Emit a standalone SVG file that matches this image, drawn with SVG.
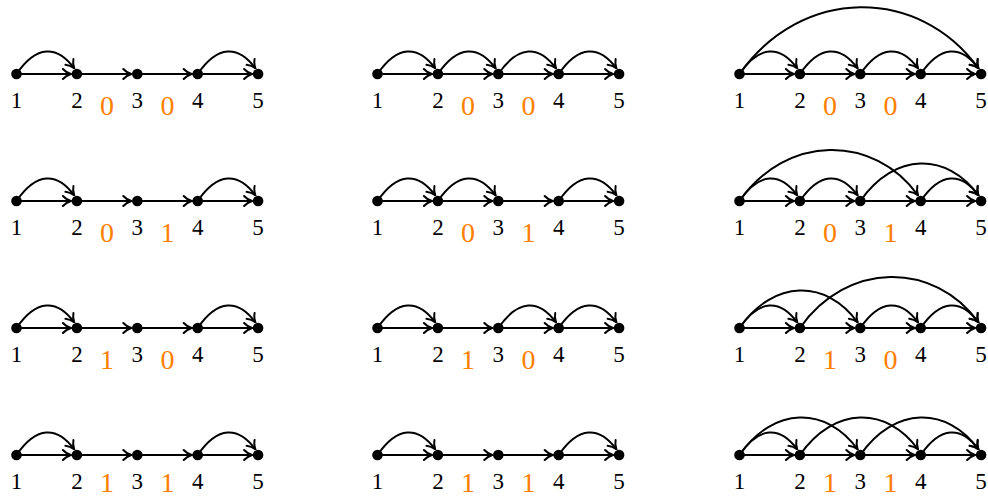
<svg xmlns="http://www.w3.org/2000/svg" width="988" height="499" viewBox="0 0 988 499">
<style>
.n{fill:#000}
.lb{font-family:"Liberation Serif","Times New Roman","DejaVu Serif",serif;font-size:23px;fill:#000;text-anchor:middle}
.ob{font-family:"Liberation Serif","Times New Roman","DejaVu Serif",serif;font-size:28px;fill:#ff8000;text-anchor:middle}
.e{fill:none;stroke:#000;stroke-width:2;marker-end:url(#ar)}
</style>
<defs>
<marker id="ar" viewBox="-10 -7 11 14" markerWidth="11" markerHeight="14" refX="0" refY="0" orient="auto" markerUnits="userSpaceOnUse">
<path d="M-8 -5C-5.5 -2.2 -2.3 -0.7 0 0C-2.3 0.7 -5.5 2.2 -8 5" fill="none" stroke="#000" stroke-width="2" stroke-linecap="round"/>
</marker>
</defs>
<rect width="988" height="499" fill="#fff"/>

<!-- Connectors -->
<g id="connectors">
<g transform="translate(16.5,74)">
<path class="e" d="M0 0H54.4"/><path class="e" d="M60.4 0H114.8"/><path class="e" d="M120.8 0H175.2"/><path class="e" d="M181.2 0H235.6"/>
<path class="e" d="M0 0C20 -29 40.4 -29 57.7 -5.7"/>
<path class="e" d="M181.2 0C201.2 -29 221.6 -29 238.9 -5.7"/>
</g>
<g transform="translate(377.5,74)">
<path class="e" d="M0 0H54.4"/><path class="e" d="M60.4 0H114.8"/><path class="e" d="M120.8 0H175.2"/><path class="e" d="M181.2 0H235.6"/>
<path class="e" d="M0 0C20 -29 40.4 -29 57.7 -5.7"/>
<path class="e" d="M60.4 0C80.4 -29 100.8 -29 118.1 -5.7"/>
<path class="e" d="M120.8 0C140.8 -29 161.2 -29 178.5 -5.7"/>
<path class="e" d="M181.2 0C201.2 -29 221.6 -29 238.9 -5.7"/>
</g>
<g transform="translate(739.5,74)">
<path class="e" d="M0 0H54.4"/><path class="e" d="M60.4 0H114.8"/><path class="e" d="M120.8 0H175.2"/><path class="e" d="M181.2 0H235.6"/>
<path class="e" d="M0 0C20 -29 40.4 -29 57.7 -5.7"/>
<path class="e" d="M60.4 0C80.4 -29 100.8 -29 118.1 -5.7"/>
<path class="e" d="M120.8 0C140.8 -29 161.2 -29 178.5 -5.7"/>
<path class="e" d="M181.2 0C201.2 -29 221.6 -29 238.9 -5.7"/>
<path class="e" d="M0 0C62 -88 179.6 -88 238.9 -5.7"/>
</g>
<g transform="translate(16.5,201)">
<path class="e" d="M0 0H54.4"/><path class="e" d="M60.4 0H114.8"/><path class="e" d="M120.8 0H175.2"/><path class="e" d="M181.2 0H235.6"/>
<path class="e" d="M0 0C20 -29 40.4 -29 57.7 -5.7"/>
<path class="e" d="M181.2 0C201.2 -29 221.6 -29 238.9 -5.7"/>
</g>
<g transform="translate(377.5,201)">
<path class="e" d="M0 0H54.4"/><path class="e" d="M60.4 0H114.8"/><path class="e" d="M120.8 0H175.2"/><path class="e" d="M181.2 0H235.6"/>
<path class="e" d="M0 0C20 -29 40.4 -29 57.7 -5.7"/>
<path class="e" d="M60.4 0C80.4 -29 100.8 -29 118.1 -5.7"/>
<path class="e" d="M181.2 0C201.2 -29 221.6 -29 238.9 -5.7"/>
</g>
<g transform="translate(739.5,201)">
<path class="e" d="M0 0H54.4"/><path class="e" d="M60.4 0H114.8"/><path class="e" d="M120.8 0H175.2"/><path class="e" d="M181.2 0H235.6"/>
<path class="e" d="M0 0C20 -29 40.4 -29 57.7 -5.7"/>
<path class="e" d="M60.4 0C80.4 -29 100.8 -29 118.1 -5.7"/>
<path class="e" d="M181.2 0C201.2 -29 221.6 -29 238.9 -5.7"/>
<path class="e" d="M0 0C47 -67 134.2 -67 178.5 -5.7"/>
<path class="e" d="M120.8 0C154.8 -49 207.6 -49 238.9 -5.7"/>
</g>
<g transform="translate(16.5,328)">
<path class="e" d="M0 0H54.4"/><path class="e" d="M60.4 0H114.8"/><path class="e" d="M120.8 0H175.2"/><path class="e" d="M181.2 0H235.6"/>
<path class="e" d="M0 0C20 -29 40.4 -29 57.7 -5.7"/>
<path class="e" d="M181.2 0C201.2 -29 221.6 -29 238.9 -5.7"/>
</g>
<g transform="translate(377.5,328)">
<path class="e" d="M0 0H54.4"/><path class="e" d="M60.4 0H114.8"/><path class="e" d="M120.8 0H175.2"/><path class="e" d="M181.2 0H235.6"/>
<path class="e" d="M0 0C20 -29 40.4 -29 57.7 -5.7"/>
<path class="e" d="M120.8 0C140.8 -29 161.2 -29 178.5 -5.7"/>
<path class="e" d="M181.2 0C201.2 -29 221.6 -29 238.9 -5.7"/>
</g>
<g transform="translate(739.5,328)">
<path class="e" d="M0 0H54.4"/><path class="e" d="M60.4 0H114.8"/><path class="e" d="M120.8 0H175.2"/><path class="e" d="M181.2 0H235.6"/>
<path class="e" d="M0 0C20 -29 40.4 -29 57.7 -5.7"/>
<path class="e" d="M120.8 0C140.8 -29 161.2 -29 178.5 -5.7"/>
<path class="e" d="M181.2 0C201.2 -29 221.6 -29 238.9 -5.7"/>
<path class="e" d="M0 0C34 -49 86.8 -49 118.1 -5.7"/>
<path class="e" d="M60.4 0C107.4 -67 194.6 -67 238.9 -5.7"/>
</g>
<g transform="translate(16.5,455)">
<path class="e" d="M0 0H54.4"/><path class="e" d="M60.4 0H114.8"/><path class="e" d="M120.8 0H175.2"/><path class="e" d="M181.2 0H235.6"/>
<path class="e" d="M0 0C20 -29 40.4 -29 57.7 -5.7"/>
<path class="e" d="M181.2 0C201.2 -29 221.6 -29 238.9 -5.7"/>
</g>
<g transform="translate(377.5,455)">
<path class="e" d="M0 0H54.4"/><path class="e" d="M60.4 0H114.8"/><path class="e" d="M120.8 0H175.2"/><path class="e" d="M181.2 0H235.6"/>
<path class="e" d="M0 0C20 -29 40.4 -29 57.7 -5.7"/>
<path class="e" d="M181.2 0C201.2 -29 221.6 -29 238.9 -5.7"/>
</g>
<g transform="translate(739.5,455)">
<path class="e" d="M0 0H54.4"/><path class="e" d="M60.4 0H114.8"/><path class="e" d="M120.8 0H175.2"/><path class="e" d="M181.2 0H235.6"/>
<path class="e" d="M0 0C20 -29 40.4 -29 57.7 -5.7"/>
<path class="e" d="M181.2 0C201.2 -29 221.6 -29 238.9 -5.7"/>
<path class="e" d="M0 0C34 -49 86.8 -49 118.1 -5.7"/>
<path class="e" d="M60.4 0C94.4 -49 147.2 -49 178.5 -5.7"/>
<path class="e" d="M120.8 0C154.8 -49 207.6 -49 238.9 -5.7"/>
</g>
</g>

<!-- Nodes -->
<g id="nodes">
<g id="r1a" transform="translate(16.5,74)">
<g id="r1a-n1"><circle class="n" cx="0" cy="0" r="5.3"/><text class="lb" x="0" y="34">1</text></g>
<g id="r1a-n2"><circle class="n" cx="60.4" cy="0" r="5.3"/><text class="lb" x="60.4" y="34">2</text></g>
<g id="r1a-n3"><circle class="n" cx="120.8" cy="0" r="5.3"/><text class="lb" x="120.8" y="34">3</text></g>
<g id="r1a-n4"><circle class="n" cx="181.2" cy="0" r="5.3"/><text class="lb" x="181.2" y="34">4</text></g>
<g id="r1a-n5"><circle class="n" cx="241.6" cy="0" r="5.3"/><text class="lb" x="241.6" y="34">5</text></g>
<text class="ob" x="90.6" y="41">0</text><text class="ob" x="151" y="41">0</text>
</g>
<g id="r1b" transform="translate(377.5,74)">
<g id="r1b-n1"><circle class="n" cx="0" cy="0" r="5.3"/><text class="lb" x="0" y="34">1</text></g>
<g id="r1b-n2"><circle class="n" cx="60.4" cy="0" r="5.3"/><text class="lb" x="60.4" y="34">2</text></g>
<g id="r1b-n3"><circle class="n" cx="120.8" cy="0" r="5.3"/><text class="lb" x="120.8" y="34">3</text></g>
<g id="r1b-n4"><circle class="n" cx="181.2" cy="0" r="5.3"/><text class="lb" x="181.2" y="34">4</text></g>
<g id="r1b-n5"><circle class="n" cx="241.6" cy="0" r="5.3"/><text class="lb" x="241.6" y="34">5</text></g>
<text class="ob" x="90.6" y="41">0</text><text class="ob" x="151" y="41">0</text>
</g>
<g id="r1c" transform="translate(739.5,74)">
<g id="r1c-n1"><circle class="n" cx="0" cy="0" r="5.3"/><text class="lb" x="0" y="34">1</text></g>
<g id="r1c-n2"><circle class="n" cx="60.4" cy="0" r="5.3"/><text class="lb" x="60.4" y="34">2</text></g>
<g id="r1c-n3"><circle class="n" cx="120.8" cy="0" r="5.3"/><text class="lb" x="120.8" y="34">3</text></g>
<g id="r1c-n4"><circle class="n" cx="181.2" cy="0" r="5.3"/><text class="lb" x="181.2" y="34">4</text></g>
<g id="r1c-n5"><circle class="n" cx="241.6" cy="0" r="5.3"/><text class="lb" x="241.6" y="34">5</text></g>
<text class="ob" x="90.6" y="41">0</text><text class="ob" x="151" y="41">0</text>
</g>

<g id="r2a" transform="translate(16.5,201)">
<g id="r2a-n1"><circle class="n" cx="0" cy="0" r="5.3"/><text class="lb" x="0" y="34">1</text></g>
<g id="r2a-n2"><circle class="n" cx="60.4" cy="0" r="5.3"/><text class="lb" x="60.4" y="34">2</text></g>
<g id="r2a-n3"><circle class="n" cx="120.8" cy="0" r="5.3"/><text class="lb" x="120.8" y="34">3</text></g>
<g id="r2a-n4"><circle class="n" cx="181.2" cy="0" r="5.3"/><text class="lb" x="181.2" y="34">4</text></g>
<g id="r2a-n5"><circle class="n" cx="241.6" cy="0" r="5.3"/><text class="lb" x="241.6" y="34">5</text></g>
<text class="ob" x="90.6" y="41">0</text><text class="ob" x="151" y="41">1</text>
</g>
<g id="r2b" transform="translate(377.5,201)">
<g id="r2b-n1"><circle class="n" cx="0" cy="0" r="5.3"/><text class="lb" x="0" y="34">1</text></g>
<g id="r2b-n2"><circle class="n" cx="60.4" cy="0" r="5.3"/><text class="lb" x="60.4" y="34">2</text></g>
<g id="r2b-n3"><circle class="n" cx="120.8" cy="0" r="5.3"/><text class="lb" x="120.8" y="34">3</text></g>
<g id="r2b-n4"><circle class="n" cx="181.2" cy="0" r="5.3"/><text class="lb" x="181.2" y="34">4</text></g>
<g id="r2b-n5"><circle class="n" cx="241.6" cy="0" r="5.3"/><text class="lb" x="241.6" y="34">5</text></g>
<text class="ob" x="90.6" y="41">0</text><text class="ob" x="151" y="41">1</text>
</g>
<g id="r2c" transform="translate(739.5,201)">
<g id="r2c-n1"><circle class="n" cx="0" cy="0" r="5.3"/><text class="lb" x="0" y="34">1</text></g>
<g id="r2c-n2"><circle class="n" cx="60.4" cy="0" r="5.3"/><text class="lb" x="60.4" y="34">2</text></g>
<g id="r2c-n3"><circle class="n" cx="120.8" cy="0" r="5.3"/><text class="lb" x="120.8" y="34">3</text></g>
<g id="r2c-n4"><circle class="n" cx="181.2" cy="0" r="5.3"/><text class="lb" x="181.2" y="34">4</text></g>
<g id="r2c-n5"><circle class="n" cx="241.6" cy="0" r="5.3"/><text class="lb" x="241.6" y="34">5</text></g>
<text class="ob" x="90.6" y="41">0</text><text class="ob" x="151" y="41">1</text>
</g>

<g id="r3a" transform="translate(16.5,328)">
<g id="r3a-n1"><circle class="n" cx="0" cy="0" r="5.3"/><text class="lb" x="0" y="34">1</text></g>
<g id="r3a-n2"><circle class="n" cx="60.4" cy="0" r="5.3"/><text class="lb" x="60.4" y="34">2</text></g>
<g id="r3a-n3"><circle class="n" cx="120.8" cy="0" r="5.3"/><text class="lb" x="120.8" y="34">3</text></g>
<g id="r3a-n4"><circle class="n" cx="181.2" cy="0" r="5.3"/><text class="lb" x="181.2" y="34">4</text></g>
<g id="r3a-n5"><circle class="n" cx="241.6" cy="0" r="5.3"/><text class="lb" x="241.6" y="34">5</text></g>
<text class="ob" x="90.6" y="41">1</text><text class="ob" x="151" y="41">0</text>
</g>
<g id="r3b" transform="translate(377.5,328)">
<g id="r3b-n1"><circle class="n" cx="0" cy="0" r="5.3"/><text class="lb" x="0" y="34">1</text></g>
<g id="r3b-n2"><circle class="n" cx="60.4" cy="0" r="5.3"/><text class="lb" x="60.4" y="34">2</text></g>
<g id="r3b-n3"><circle class="n" cx="120.8" cy="0" r="5.3"/><text class="lb" x="120.8" y="34">3</text></g>
<g id="r3b-n4"><circle class="n" cx="181.2" cy="0" r="5.3"/><text class="lb" x="181.2" y="34">4</text></g>
<g id="r3b-n5"><circle class="n" cx="241.6" cy="0" r="5.3"/><text class="lb" x="241.6" y="34">5</text></g>
<text class="ob" x="90.6" y="41">1</text><text class="ob" x="151" y="41">0</text>
</g>
<g id="r3c" transform="translate(739.5,328)">
<g id="r3c-n1"><circle class="n" cx="0" cy="0" r="5.3"/><text class="lb" x="0" y="34">1</text></g>
<g id="r3c-n2"><circle class="n" cx="60.4" cy="0" r="5.3"/><text class="lb" x="60.4" y="34">2</text></g>
<g id="r3c-n3"><circle class="n" cx="120.8" cy="0" r="5.3"/><text class="lb" x="120.8" y="34">3</text></g>
<g id="r3c-n4"><circle class="n" cx="181.2" cy="0" r="5.3"/><text class="lb" x="181.2" y="34">4</text></g>
<g id="r3c-n5"><circle class="n" cx="241.6" cy="0" r="5.3"/><text class="lb" x="241.6" y="34">5</text></g>
<text class="ob" x="90.6" y="41">1</text><text class="ob" x="151" y="41">0</text>
</g>

<g id="r4a" transform="translate(16.5,455)">
<g id="r4a-n1"><circle class="n" cx="0" cy="0" r="5.3"/><text class="lb" x="0" y="34">1</text></g>
<g id="r4a-n2"><circle class="n" cx="60.4" cy="0" r="5.3"/><text class="lb" x="60.4" y="34">2</text></g>
<g id="r4a-n3"><circle class="n" cx="120.8" cy="0" r="5.3"/><text class="lb" x="120.8" y="34">3</text></g>
<g id="r4a-n4"><circle class="n" cx="181.2" cy="0" r="5.3"/><text class="lb" x="181.2" y="34">4</text></g>
<g id="r4a-n5"><circle class="n" cx="241.6" cy="0" r="5.3"/><text class="lb" x="241.6" y="34">5</text></g>
<text class="ob" x="90.6" y="37">1</text><text class="ob" x="151" y="37">1</text>
</g>
<g id="r4b" transform="translate(377.5,455)">
<g id="r4b-n1"><circle class="n" cx="0" cy="0" r="5.3"/><text class="lb" x="0" y="34">1</text></g>
<g id="r4b-n2"><circle class="n" cx="60.4" cy="0" r="5.3"/><text class="lb" x="60.4" y="34">2</text></g>
<g id="r4b-n3"><circle class="n" cx="120.8" cy="0" r="5.3"/><text class="lb" x="120.8" y="34">3</text></g>
<g id="r4b-n4"><circle class="n" cx="181.2" cy="0" r="5.3"/><text class="lb" x="181.2" y="34">4</text></g>
<g id="r4b-n5"><circle class="n" cx="241.6" cy="0" r="5.3"/><text class="lb" x="241.6" y="34">5</text></g>
<text class="ob" x="90.6" y="37">1</text><text class="ob" x="151" y="37">1</text>
</g>
<g id="r4c" transform="translate(739.5,455)">
<g id="r4c-n1"><circle class="n" cx="0" cy="0" r="5.3"/><text class="lb" x="0" y="34">1</text></g>
<g id="r4c-n2"><circle class="n" cx="60.4" cy="0" r="5.3"/><text class="lb" x="60.4" y="34">2</text></g>
<g id="r4c-n3"><circle class="n" cx="120.8" cy="0" r="5.3"/><text class="lb" x="120.8" y="34">3</text></g>
<g id="r4c-n4"><circle class="n" cx="181.2" cy="0" r="5.3"/><text class="lb" x="181.2" y="34">4</text></g>
<g id="r4c-n5"><circle class="n" cx="241.6" cy="0" r="5.3"/><text class="lb" x="241.6" y="34">5</text></g>
<text class="ob" x="90.6" y="37">1</text><text class="ob" x="151" y="37">1</text>
</g>
</g>
</svg>
